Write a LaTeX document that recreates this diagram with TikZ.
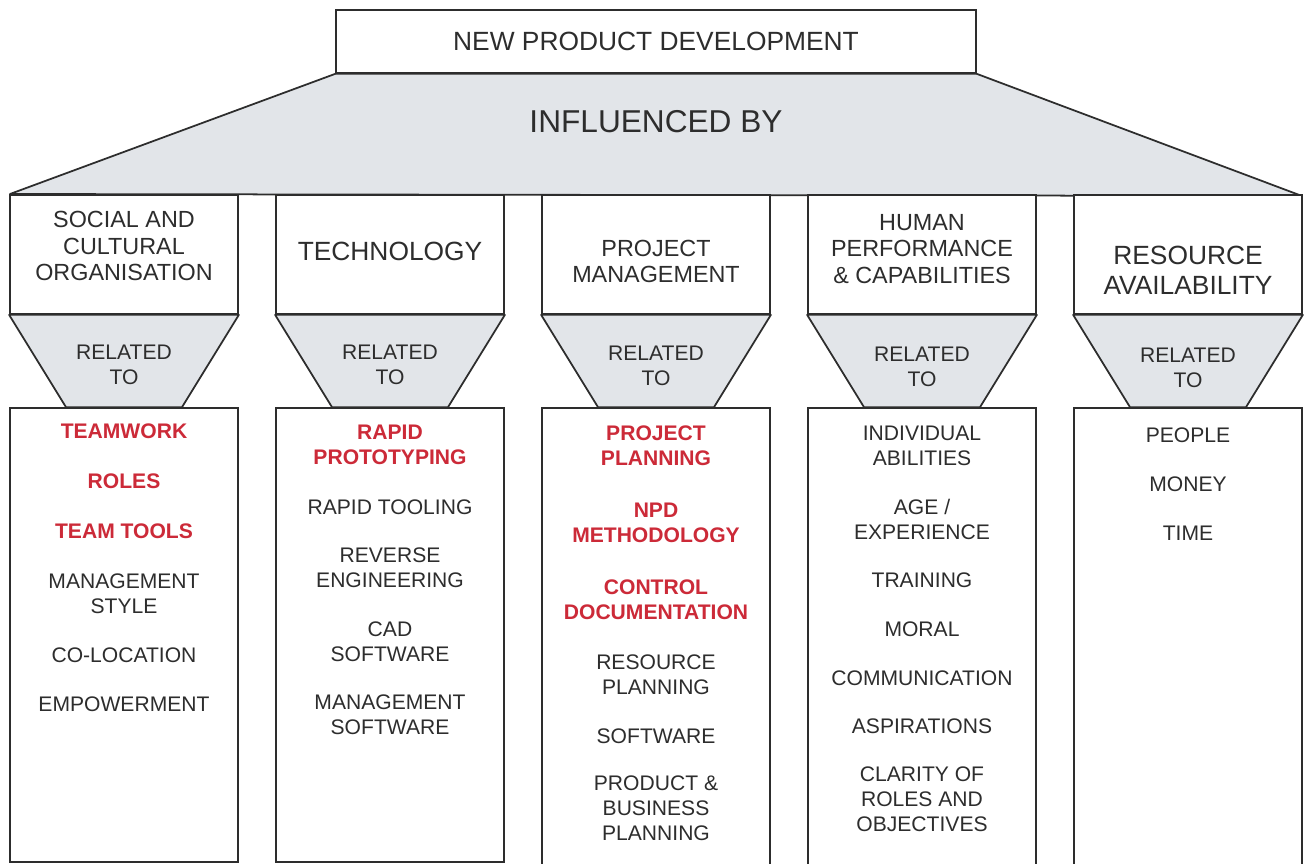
\documentclass[tikz,border=0pt]{standalone}
\usepackage{fontspec}
\setmainfont{Liberation Sans}
\usetikzlibrary{calc}

\definecolor{npdred}{RGB}{204,42,56}
\definecolor{npdgray}{RGB}{226,229,233}
\definecolor{npdink}{RGB}{45,45,45}

\tikzset{
    box/.style={draw=npdink, line width=1pt, fill=white, align=center, text=npdink},
    headbox/.style={box, minimum width=4.56cm, minimum height=2.38cm},
    listbox/.style={box, minimum width=4.56cm, minimum height=9.08cm},
    funnel/.style={draw=npdink, line width=1pt, fill=npdgray, line join=round},
    item/.style={align=center, text=npdink, font=\fontsize{12}{14.2}\selectfont},
    keyitem/.style={item, text=npdred, font=\fontsize{12}{14.2}\selectfont\bfseries},
    headtext/.style={item, font=\fontsize{13.3}{15.3}\selectfont},
    bighead/.style={item, font=\fontsize{15}{17}\selectfont},
}

\begin{document}
\begin{tikzpicture}[x=0.02cm, y=-0.02cm]
    \useasboundingbox (0, 0) rectangle (1308, 864);

    % top of the hierarchy
    \node[box, minimum width=12.8cm, minimum height=1.26cm, font=\fontsize{15}{18}\selectfont] at (656, 41.5) (npd) {NEW PRODUCT DEVELOPMENT};

    \coordinate (roofl) at (10, 194);
    \coordinate (roofr) at (1302, 196);
    \draw[funnel] (npd.south west) -- (npd.south east) -- (roofr) -- (roofl) -- cycle;
    \node[item, font=\fontsize{18}{21}\selectfont] at (656, 122) (infl) {INFLUENCED BY};

    % the five headings
    \node[headbox] at (124, 254.5) (soc) {};
    \node[headbox] at (390, 254.5) (tech) {};
    \node[headbox] at (656, 254.5) (proj) {};
    \node[headbox] at (922, 254.5) (hum) {};
    \node[headbox] at (1188, 254.5) (res) {};

    \node[headtext] at (124, 246) (soctext) {SOCIAL AND\\CULTURAL\\ORGANISATION};
    \node[bighead] at (390, 251) (techtext) {TECHNOLOGY};
    \node[headtext] at (656, 261.5) (projtext) {PROJECT\\MANAGEMENT};
    \node[headtext] at (922, 249) (humtext) {HUMAN\\PERFORMANCE\\\& CAPABILITIES};
    \node[bighead] at (1188, 270) (restext) {RESOURCE\\AVAILABILITY};

    % the lists
    \node[listbox] at (124, 635) (soclist) {};
    \node[listbox] at (390, 635) (techlist) {};
    \node[listbox, minimum height=9.5cm] at (656, 645.5) (projlist) {};
    \node[listbox, minimum height=9.5cm] at (922, 645.5) (humlist) {};
    \node[listbox, minimum height=9.5cm] at (1188, 645.5) (reslist) {};

    % funnels between heading and list
    \draw[funnel] (soc.south west) -- (soc.south east) -- ($(soclist.north)+(58,0)$) -- ($(soclist.north)+(-58,0)$) -- cycle;
    \draw[funnel] (tech.south west) -- (tech.south east) -- ($(techlist.north)+(58,0)$) -- ($(techlist.north)+(-58,0)$) -- cycle;
    \draw[funnel] (proj.south west) -- (proj.south east) -- ($(projlist.north)+(58,0)$) -- ($(projlist.north)+(-58,0)$) -- cycle;
    \draw[funnel] (hum.south west) -- (hum.south east) -- ($(humlist.north)+(58,0)$) -- ($(humlist.north)+(-58,0)$) -- cycle;
    \draw[funnel] (res.south west) -- (res.south east) -- ($(reslist.north)+(58,0)$) -- ($(reslist.north)+(-58,0)$) -- cycle;

    \node[item] at (124, 365) (socrel) {RELATED\\TO};
    \node[item] at (390, 365) (techrel) {RELATED\\TO};
    \node[item] at (656, 366) (projrel) {RELATED\\TO};
    \node[item] at (922, 367) (humrel) {RELATED\\TO};
    \node[item] at (1188, 368) (resrel) {RELATED\\TO};

    % social and cultural organisation
    \node[keyitem] at (124, 431) (soc1) {TEAMWORK};
    \node[keyitem] at (124, 481) (soc2) {ROLES};
    \node[keyitem] at (124, 531) (soc3) {TEAM TOOLS};
    \node[item] at (124, 593.5) (soc4) {MANAGEMENT\\STYLE};
    \node[item] at (124, 655) (soc5) {CO-LOCATION};
    \node[item] at (124, 704) (soc6) {EMPOWERMENT};

    % technology
    \node[keyitem] at (390, 445) (tech1) {RAPID\\PROTOTYPING};
    \node[item] at (390, 507) (tech2) {RAPID TOOLING};
    \node[item] at (390, 568) (tech3) {REVERSE\\ENGINEERING};
    \node[item] at (390, 641.5) (tech4) {CAD\\SOFTWARE};
    \node[item] at (390, 715) (tech5) {MANAGEMENT\\SOFTWARE};

    % project management
    \node[keyitem] at (656, 446) (proj1) {PROJECT\\PLANNING};
    \node[keyitem] at (656, 523) (proj2) {NPD\\METHODOLOGY};
    \node[keyitem] at (656, 599.5) (proj3) {CONTROL\\DOCUMENTATION};
    \node[item] at (656, 674.5) (proj4) {RESOURCE\\PLANNING};
    \node[item] at (656, 736) (proj5) {SOFTWARE};
    \node[item] at (656, 808.5) (proj6) {PRODUCT \&\\BUSINESS\\PLANNING};

    % human performance
    \node[item] at (922, 446) (hum1) {INDIVIDUAL\\ABILITIES};
    \node[item] at (922, 519) (hum2) {AGE /\\EXPERIENCE};
    \node[item] at (922, 580) (hum3) {TRAINING};
    \node[item] at (922, 629) (hum4) {MORAL};
    \node[item] at (922, 678) (hum5) {COMMUNICATION};
    \node[item] at (922, 726) (hum6) {ASPIRATIONS};
    \node[item] at (922, 799.5) (hum7) {CLARITY OF\\ROLES AND\\OBJECTIVES};

    % resource availability
    \node[item] at (1188, 435) (res1) {PEOPLE};
    \node[item] at (1188, 484) (res2) {MONEY};
    \node[item] at (1188, 533) (res3) {TIME};
\end{tikzpicture}
\end{document}
